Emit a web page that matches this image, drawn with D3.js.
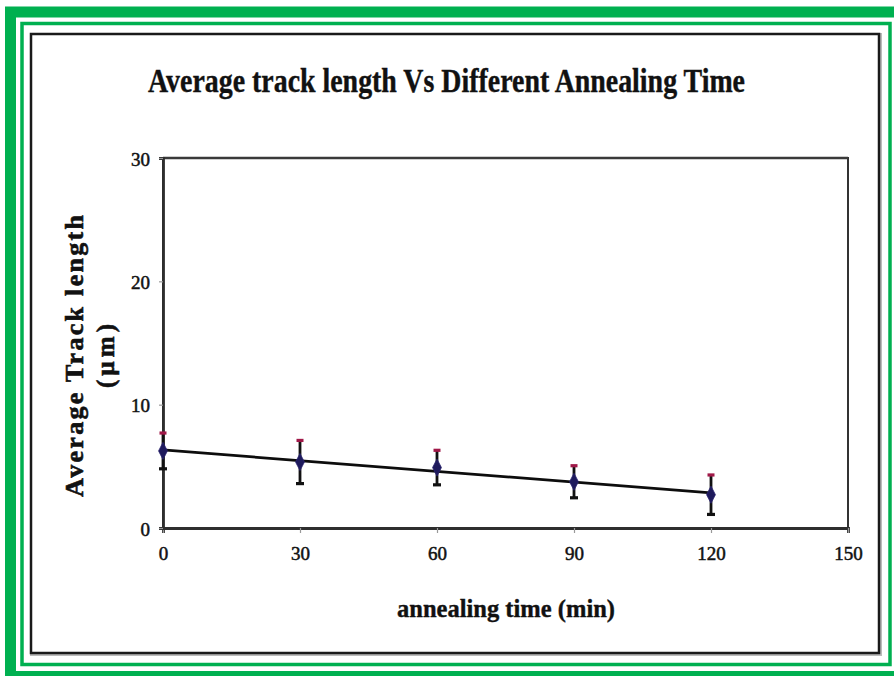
<!DOCTYPE html>
<html>
<head>
<meta charset="utf-8">
<script src="https://cdn.jsdelivr.net/npm/d3@7"></script>
<style>
  html, body { margin: 0; padding: 0; background: #fff; }
  svg { display: block; }
</style>
</head>
<body>
<svg id="chart" width="894" height="676"></svg>
<script>
// Annealing time (min) and measured average track length (µm) with error bars
const annealTimes = [0, 30, 60, 90, 120];
const meanLength = [6.25, 5.35, 4.9, 3.75, 2.7];
const errLength = [1.45, 1.75, 1.4, 1.3, 1.6];
const xTicks = [0, 30, 60, 90, 120, 150];
const yTicks = [0, 10, 20, 30];

const titleText = "Average track length Vs Different Annealing Time";
const xLabel = "annealing time (min)";
const yLabel1 = "Average Track length";
const yLabel2 = "(\u00b5m)";

const plot = { left: 163, top: 158, right: 848, bottom: 528 };
const green = "#00b050";
const serif = "'Liberation Serif', 'Times New Roman', serif";

const svg = d3.select("#chart");

// decorative frames: thick green, thin green, black inner frame
svg.append("rect").attr("x", 10.5).attr("y", 12).attr("width", 891).attr("height", 664.5)
  .attr("fill", "none").attr("stroke", green).attr("stroke-width", 11);
svg.append("rect").attr("x", 22).attr("y", 23.5).attr("width", 868).attr("height", 641)
  .attr("fill", "none").attr("stroke", green).attr("stroke-width", 3.5);
svg.append("rect").attr("x", 32).attr("y", 35).attr("width", 848).attr("height", 619)
  .attr("fill", "none").attr("stroke", "#bbb").attr("stroke-width", 4);
svg.append("rect").attr("x", 31).attr("y", 34).attr("width", 848).attr("height", 619)
  .attr("fill", "#fff").attr("stroke", "#1a1a1a").attr("stroke-width", 2.5);

// title
svg.append("text")
  .attr("x", 446.5).attr("y", 92)
  .attr("text-anchor", "middle")
  .attr("font-family", serif).attr("font-weight", "bold").attr("font-size", 33)
  .attr("textLength", 597).attr("lengthAdjust", "spacingAndGlyphs")
  .attr("fill", "#111").attr("stroke", "#111").attr("stroke-width", 0.4)
  .text(titleText);

const x = d3.scaleLinear().domain([0, 150]).range([plot.left, plot.right]);
const y = d3.scaleLinear().domain([0, 30]).range([plot.bottom, plot.top]);

// plot frame
svg.append("rect")
  .attr("x", plot.left).attr("y", plot.top)
  .attr("width", plot.right - plot.left).attr("height", plot.bottom - plot.top)
  .attr("fill", "none").attr("stroke", "#333").attr("stroke-width", 2);
svg.append("line").attr("x1", plot.left).attr("x2", plot.right)
  .attr("y1", plot.top).attr("y2", plot.top)
  .attr("stroke", "#3a3a3a").attr("stroke-width", 2.6);

// axes
const xAxis = svg.append("g")
  .attr("transform", `translate(0,${plot.bottom})`)
  .call(d3.axisBottom(x).tickValues(xTicks).tickSize(5).tickPadding(20).tickFormat(d3.format("d")));
const yAxis = svg.append("g")
  .attr("transform", `translate(${plot.left},0)`)
  .call(d3.axisLeft(y).tickValues(yTicks).tickSize(4).tickPadding(9).tickFormat(d3.format("d")));

[xAxis, yAxis].forEach(g => {
  g.select(".domain").attr("stroke", "#2e2e2e").attr("stroke-width", 2.8);
  g.selectAll(".tick line").attr("stroke", "#999").attr("stroke-width", 1.2);
  g.selectAll(".tick text")
    .attr("font-family", serif).attr("font-size", 19).attr("fill", "#111")
    .attr("stroke", "#111").attr("stroke-width", 0.5);
});
xAxis.selectAll(".tick text").attr("dy", "0.35em");
yAxis.selectAll(".tick text").attr("dy", "0.38em");

// axis titles
svg.append("text")
  .attr("x", 506).attr("y", 617)
  .attr("text-anchor", "middle")
  .attr("font-family", serif).attr("font-weight", "bold").attr("font-size", 26)
  .attr("textLength", 218).attr("lengthAdjust", "spacingAndGlyphs")
  .attr("fill", "#111").attr("stroke", "#111").attr("stroke-width", 0.4)
  .text(xLabel);

svg.append("text")
  .attr("transform", "translate(83,356) rotate(-90)")
  .attr("text-anchor", "middle")
  .attr("font-family", serif).attr("font-weight", "bold").attr("font-size", 26)
  .attr("textLength", 282).attr("lengthAdjust", "spacing")
  .attr("fill", "#111").attr("stroke", "#111").attr("stroke-width", 0.6)
  .text(yLabel1);
svg.append("text")
  .attr("transform", "translate(114,356) rotate(-90)")
  .attr("text-anchor", "middle")
  .attr("font-family", serif).attr("font-weight", "bold").attr("font-size", 25)
  .attr("textLength", 64).attr("lengthAdjust", "spacing")
  .attr("fill", "#111").attr("stroke", "#111").attr("stroke-width", 0.6)
  .text(yLabel2);

// linear trend line fitted to the means
const n = annealTimes.length;
const mx = d3.mean(annealTimes), my = d3.mean(meanLength);
let sxy = 0, sxx = 0;
for (let i = 0; i < n; i++) {
  sxy += (annealTimes[i] - mx) * (meanLength[i] - my);
  sxx += (annealTimes[i] - mx) ** 2;
}
const slope = sxy / sxx, intercept = my - slope * mx;
const tEnds = [d3.min(annealTimes), d3.max(annealTimes)];
svg.append("line")
  .attr("x1", x(tEnds[0])).attr("y1", y(intercept + slope * tEnds[0]))
  .attr("x2", x(tEnds[1])).attr("y2", y(intercept + slope * tEnds[1]))
  .attr("stroke", "#0d0d0d").attr("stroke-width", 2.8);

// error bars
const pts = annealTimes.map((t, i) => ({ t, m: meanLength[i], e: errLength[i] }));
const eb = svg.append("g");
eb.selectAll("line.err").data(pts).join("line")
  .attr("x1", d => x(d.t)).attr("x2", d => x(d.t))
  .attr("y1", d => y(d.m + d.e)).attr("y2", d => y(d.m - d.e))
  .attr("stroke", "#111").attr("stroke-width", 2.8);
eb.selectAll("line.capTop").data(pts).join("line")
  .attr("x1", d => x(d.t) - 3.5).attr("x2", d => x(d.t) + 3.5)
  .attr("y1", d => y(d.m + d.e)).attr("y2", d => y(d.m + d.e))
  .attr("stroke", "#a01848").attr("stroke-width", 3.2);
eb.selectAll("line.capBot").data(pts).join("line")
  .attr("x1", d => x(d.t) - 4).attr("x2", d => x(d.t) + 4)
  .attr("y1", d => y(d.m - d.e)).attr("y2", d => y(d.m - d.e))
  .attr("stroke", "#111").attr("stroke-width", 3.2);

// diamond markers
svg.append("g").selectAll("path").data(pts).join("path")
  .attr("transform", d => `translate(${x(d.t)},${y(d.m)}) scale(0.9,1)`)
  .attr("d", d3.symbol().type(d3.symbolDiamond).size(85))
  .attr("fill", "#1e1a5c").attr("stroke", "#2a2470").attr("stroke-width", 0.8);
</script>
</body>
</html>
